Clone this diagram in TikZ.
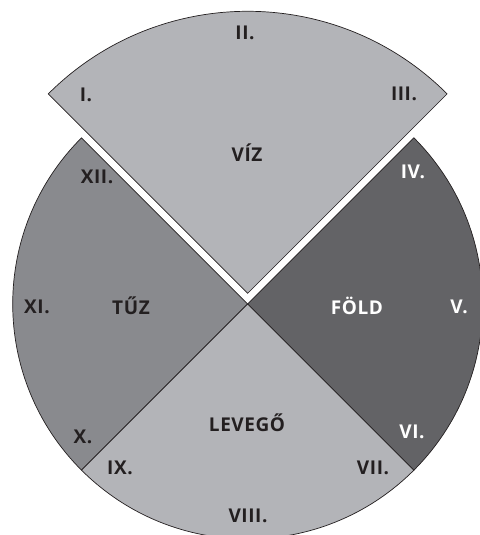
\documentclass[tikz,border=0pt]{standalone}
\usepackage{fontspec}
\setmainfont{Open Sans}[LetterSpace=3]
\definecolor{lightg}{HTML}{B3B4B8}
\definecolor{midg}{HTML}{898A8E}
\definecolor{darkg}{HTML}{636366}
\definecolor{ink}{HTML}{231F20}
\tikzset{
  sector/.style={draw=ink, line width=0.7bp, line join=miter},
  lab/.style={font=\fontsize{19bp}{22bp}\selectfont\bfseries, text=ink, inner sep=0pt},
  wlab/.style={lab, text=white}
}
\begin{document}
\begin{tikzpicture}[x=1bp,y=1bp]
\useasboundingbox (0,0) rectangle (480,535);
\clip (0,0) rectangle (480,535);
\coordinate (c) at (247.7,231);
\coordinate (t) at (247.7,241.7);
% lower sectors
\filldraw[sector, fill=darkg] (c) -- ++(-45:235bp) arc[start angle=-45, end angle=45, radius=235bp] -- cycle;
\filldraw[sector, fill=midg] (c) -- ++(135:235bp) arc[start angle=135, end angle=225, radius=235bp] -- cycle;
\filldraw[sector, fill=lightg] (c) -- ++(225:235bp) arc[start angle=225, end angle=315, radius=235bp] -- cycle;
% exploded top sector
\filldraw[sector, fill=lightg] (t) -- ++(45:282bp) arc[start angle=45, end angle=135, radius=282bp] -- cycle;
% labels
\node[lab] (n1) at (86,440) {I.};
\node[lab] (n2) at (245,502) {II.};
\node[lab] (n3) at (404,441) {III.};
\node[lab] (viz) at (247,382) {VÍZ};
\node[wlab] (n4) at (413,363) {IV.};
\node[wlab] (n5) at (459,228) {V.};
\node[wlab] (fold) at (357,229) {FÖLD};
\node[wlab] (n6) at (412,103) {VI.};
\node[lab] (n7) at (373,67) {VII.};
\node[lab] (n8) at (248,19) {VIII.};
\node[lab] (lev) at (247,112) {LEVEGŐ};
\node[lab] (n9) at (120,67) {IX.};
\node[lab] (n10) at (83,98) {X.};
\node[lab] (n11) at (37,228) {XI.};
\node[lab] (tuz) at (131,229) {TŰZ};
\node[lab] (n12) at (97,358) {XII.};
\end{tikzpicture}
\end{document}
